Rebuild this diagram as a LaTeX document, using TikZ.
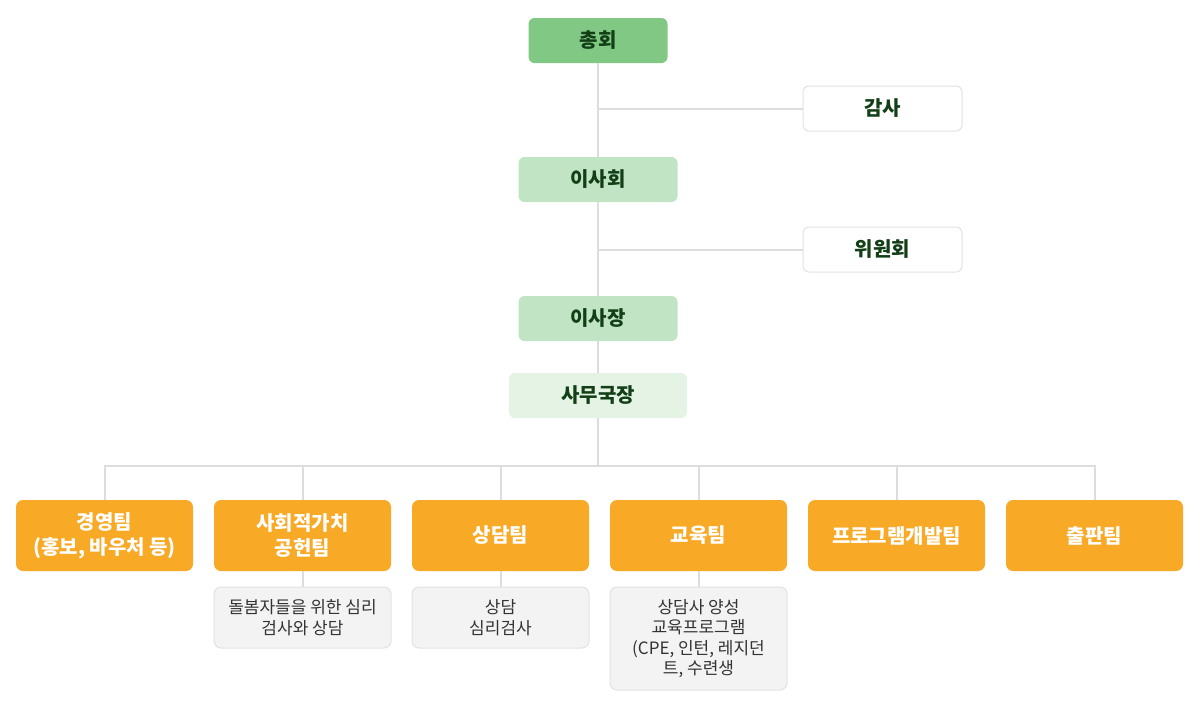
\documentclass[tikz,border=0pt]{standalone}
\usepackage{fontspec}
\setmainfont{Noto Sans CJK KR}

\definecolor{topgreen}{HTML}{80C883}
\definecolor{midgreen}{HTML}{C1E4C4}
\definecolor{palegreen}{HTML}{E5F3E5}
\definecolor{darkgreen}{HTML}{123F16}
\definecolor{teamorange}{HTML}{F8A926}
\definecolor{linegray}{HTML}{DDDDDD}
\definecolor{boxline}{HTML}{E2E2E2}
\definecolor{subfill}{HTML}{F3F3F3}
\definecolor{subtext}{HTML}{333333}

\begin{document}
\begin{tikzpicture}[x=1pt,y=-1pt,
  link/.style={draw=linegray,line width=2pt},
  org node/.style={rounded corners=6pt,inner sep=0pt,minimum width=139pt,minimum height=45pt,
    font=\fontsize{20}{24}\selectfont\bfseries,text=darkgreen},
  side node/.style={org node,fill=white,draw=boxline,line width=1pt,minimum width=159pt},
  team node/.style={rounded corners=7pt,inner sep=0pt,fill=teamorange,minimum width=177pt,minimum height=71pt,
    align=center,font=\fontsize{20}{25}\selectfont\bfseries,text=white},
  task node/.style={rounded corners=7pt,inner sep=0pt,fill=subfill,draw=boxline,line width=1pt,
    minimum width=177pt,align=center,font=\fontsize{17}{20.5}\selectfont,text=subtext}]

  \useasboundingbox (0,0) rectangle (1200,710);

  % upper chain
  \node[org node,fill=topgreen] (assembly) at (598,40.5) {총회};
  \node[side node] (audit) at (882.5,108.5) {감사};
  \node[org node,fill=midgreen,minimum width=159pt] (board) at (598,179.5) {이사회};
  \node[side node] (committee) at (882.5,249.5) {위원회};
  \node[org node,fill=midgreen,minimum width=159pt] (chair) at (598,318.5) {이사장};
  \node[org node,fill=palegreen,minimum width=178pt] (office) at (598,395.5) {사무국장};

  \coordinate (j1) at (598,108.5);
  \coordinate (j2) at (598,249.5);
  \coordinate (bus) at (598,466);

  % teams
  \node[team node] (t1) at (104.5,535.5) {경영팀\\(홍보, 바우처 등)};
  \node[team node] (t2) at (302.5,535.5) {사회적가치\\공헌팀};
  \node[team node] (t3) at (500.5,535.5) {상담팀};
  \node[team node] (t4) at (698.5,535.5) {교육팀};
  \node[team node] (t5) at (896.5,535.5) {프로그램개발팀};
  \node[team node] (t6) at (1094.5,535.5) {출판팀};

  % tasks
  \node[task node,minimum height=61pt] (s2) at (302.5,617.5) {돌봄자들을 위한 심리\\검사와 상담};
  \node[task node,minimum height=61pt] (s3) at (500.5,617.5) {상담\\심리검사};
  \node[task node,minimum height=103pt] (s4) at (698.5,638.5) {상담사 양성\\교육프로그램\\(CPE, 인턴, 레지던\\트, 수련생};

  \path[link]
    (assembly) -- (board)
    (board) -- (chair)
    (chair) -- (office)
    (j1) -- (audit)
    (j2) -- (committee)
    (office) -- (bus)
    (t1.north) -- (t1.north |- bus) -- (t6.north |- bus) -- (t6.north)
    (t2) -- (t2.north |- bus)
    (t3) -- (t3.north |- bus)
    (t4) -- (t4.north |- bus)
    (t5) -- (t5.north |- bus)
    (t2) -- (s2)
    (t3) -- (s3)
    (t4) -- (s4);
\end{tikzpicture}
\end{document}
